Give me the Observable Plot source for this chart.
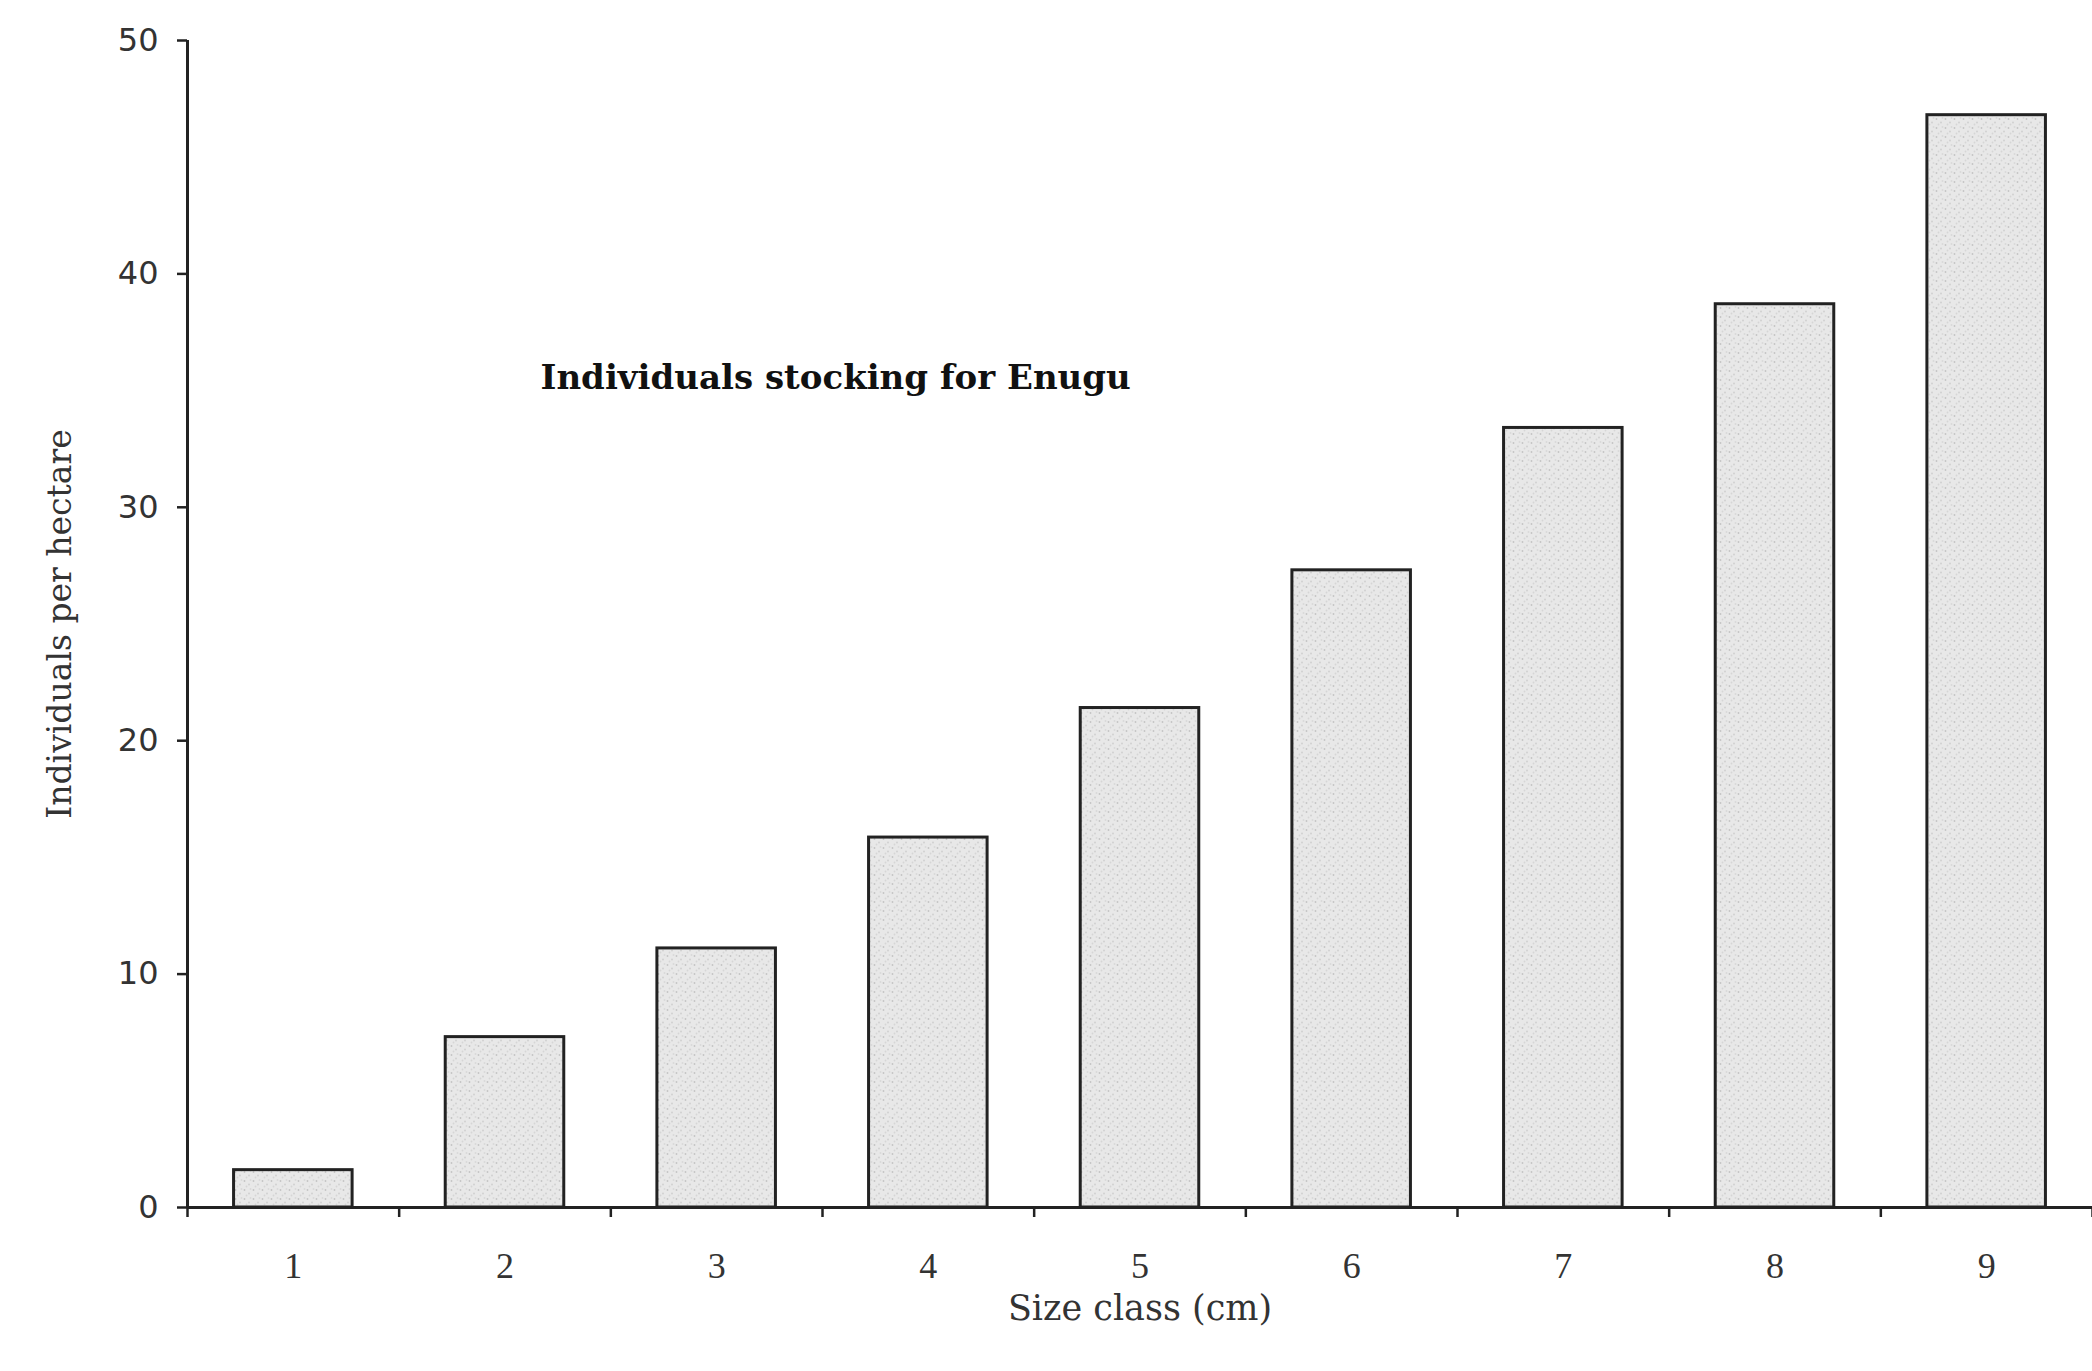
<!DOCTYPE html>
<html><head><meta charset="utf-8">
<script src="https://cdn.jsdelivr.net/npm/d3@7"></script>
<script src="https://cdn.jsdelivr.net/npm/@observablehq/plot@0.6"></script>
<style>html,body{margin:0;padding:0;background:#fff}</style>
</head><body><div id="chart"></div>
<script>
const sizeClasses = [1, 2, 3, 4, 5, 6, 7, 8, 9];
const individuals = [1.6, 7.3, 11.1, 15.85, 21.4, 27.3, 33.4, 38.7, 46.8];
const yTicks = [0, 10, 20, 30, 40, 50];
const title = "Individuals stocking for Enugu";
const xLabel = "Size class (cm)";
const yLabel = "Individuals per hectare";

const data = sizeClasses.map((c, i) => ({c, v: individuals[i]}));
const boundaries = sizeClasses.map(c => c - 0.5).concat([sizeClasses[sizeClasses.length - 1] + 0.5]);
const half = 0.28;
const ink = "#222";

const chart = Plot.plot({
  width: 2092,
  height: 1371,
  marginLeft: 187,
  marginRight: 0,
  marginTop: 40,
  marginBottom: 164,
  style: {fontFamily: "DejaVu Serif", background: "#fff", color: ink},
  x: {type: "linear", domain: [boundaries[0], boundaries[boundaries.length - 1]]},
  y: {domain: [0, 50]},
  marks: [
    Plot.rectY(data, {x1: d => d.c - half, x2: d => d.c + half, y: "v", fill: "url(#stipple)", stroke: ink, strokeWidth: 3}),
    Plot.ruleY([0], {stroke: ink, strokeWidth: 3}),
    Plot.ruleX([boundaries[0]], {y1: 0, y2: 50, stroke: ink, strokeWidth: 3}),
    Plot.axisY({ticks: yTicks, tickSize: 10, tickPadding: 19, fontSize: 32, fontFamily: "DejaVu Sans", label: null, stroke: ink, strokeWidth: 2.5, fill: "#333"}),
    Plot.axisX({ticks: boundaries, tickSize: 10, tickFormat: () => "", label: null, stroke: ink, strokeWidth: 2.5}),
    Plot.axisX({ticks: sizeClasses, tickSize: 0, tickPadding: 45, fontSize: 36, fontFamily: "Liberation Serif", label: null, fill: "#333"}),
    Plot.text([xLabel], {frameAnchor: "bottom", dy: 101, lineAnchor: "middle", textAnchor: "middle", fontSize: 35, fill: "#333"}),
    Plot.text([yLabel], {frameAnchor: "left", dx: -127, rotate: -90, lineAnchor: "middle", textAnchor: "middle", fontSize: 33, fill: "#333"}),
    Plot.text([title], {frameAnchor: "top-left", dx: 353, dy: 338, lineAnchor: "middle", textAnchor: "start", fontSize: 34, fontWeight: "bold", fill: "#111"})
  ]
});

// stippled fill pattern for the bars
const defs = d3.select(chart).insert("defs", ":first-child");
const pat = defs.append("pattern").attr("id", "stipple").attr("patternUnits", "userSpaceOnUse")
  .attr("width", 9).attr("height", 9);
pat.append("rect").attr("width", 9).attr("height", 9).attr("fill", "#e8e8e8");
[[1.5, 2, "#c4c4c4"], [6, 5.5, "#cfcfcf"], [3.5, 7.5, "#d6d6d6"], [7.5, 1, "#d9d9d9"]].forEach(([cx, cy, c]) =>
  pat.append("circle").attr("cx", cx).attr("cy", cy).attr("r", 0.9).attr("fill", c));

document.getElementById("chart").appendChild(chart);
</script>
</body></html>
